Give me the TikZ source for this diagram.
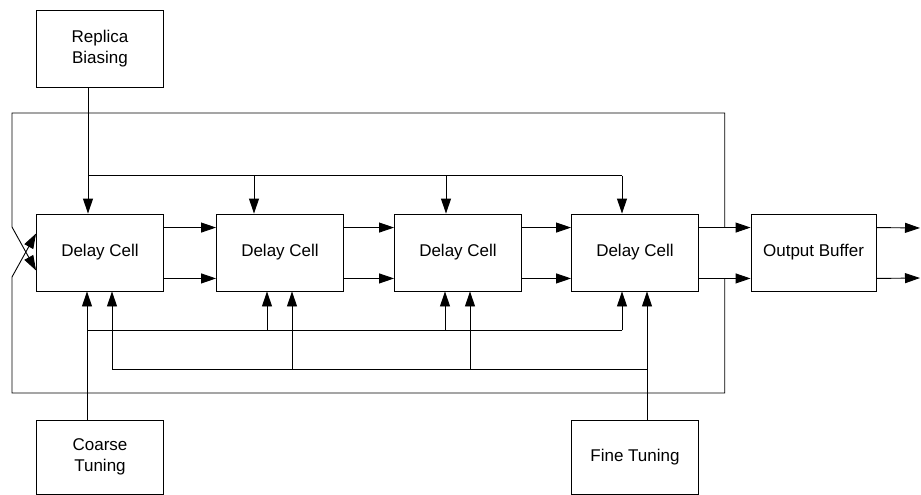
\documentclass[tikz,border=0pt]{standalone}
\usepackage{fontspec}
\setmainfont{Liberation Sans}
\usetikzlibrary{arrows.meta, positioning, calc}

\begin{document}
\begin{tikzpicture}[
  x=1pt, y=-1pt,
  line width=0.9pt,
  blk/.style={rectangle, draw, minimum width=127pt, minimum height=77pt,
              font=\fontsize{17}{21}\selectfont, align=center},
  ctl/.style={blk, minimum height=74pt},
  arr/.style={-{Triangle[length=15pt, width=10pt]}}
]
  \useasboundingbox (0,0) rectangle (921,495);

  \node[blk] (rep) at (100,48.5) {Replica\\Biasing};
  \node[blk] (cellA) at (100,252.5) {Delay Cell};
  \node[blk] (cellB) at (280,252.5) {Delay Cell};
  \node[blk] (cellC) at (458,252.5) {Delay Cell};
  \node[blk] (cellD) at (635,252.5) {Delay Cell};
  \node[blk, minimum width=125pt] (buf) at (813.5,252.5) {Output Buffer};
  \node[ctl] (coarse) at (100,457) {Coarse\\Tuning};
  \node[ctl] (fine) at (635,457) {Fine Tuning};

  % signal chain
  \foreach \a/\b in {cellA/cellB, cellB/cellC, cellC/cellD, cellD/buf} {
    \draw[arr] ([yshift=-14pt]\a.north east) -- ([yshift=-14pt]\b.north west);
    \draw[arr] ([yshift=13pt]\a.south east) -- ([yshift=13pt]\b.south west);
  }
  \coordinate (outP) at (920,228);
  \coordinate (outN) at (920,278);
  \draw[arr] ([yshift=-14pt]buf.north east) -- (outP);
  \draw[arr] ([yshift=13pt]buf.south east) -- (outN);

  % bias distribution
  \draw[arr] ([xshift=-12pt]rep.south) -- ([xshift=-12pt]cellA.north);
  \draw ($(cellA.north)+(-12,-38)$) -- ($(cellD.north)+(-13,-38)$);
  \foreach \c/\dx in {cellB/-26, cellC/-12, cellD/-13}
    \draw[arr] ($(\c.north)+(\dx,-38)$) -- ([xshift=\dx pt]\c.north);

  % coarse tuning
  \draw[arr] ([xshift=-13pt]coarse.north) -- ([xshift=-13pt]cellA.south);
  \draw ($(cellA.south)+(-13,39)$) -- ($(cellD.south)+(-13,39)$);
  \foreach \c in {cellB, cellC, cellD}
    \draw[arr] ($(\c.south)+(-13,39)$) -- ([xshift=-13pt]\c.south);

  % fine tuning
  \draw[arr] ([xshift=12pt]fine.north) -- ([xshift=12pt]cellD.south);
  \draw ($(cellA.south)+(12,78)$) -- ($(cellD.south)+(12,78)$);
  \foreach \c in {cellA, cellB, cellC}
    \draw[arr] ($(\c.south)+(12,78)$) -- ([xshift=12pt]\c.south);

  % feedback loop (crossed)
  \coordinate (fbU) at ($(cellD.north east)!0.5!(buf.north west)+(0,14)$);
  \coordinate (fbL) at ($(cellD.south east)!0.5!(buf.south west)+(0,-13)$);
  \draw[arr] (fbU) |- (12,113) -- (12,227) -- ([yshift=-18pt]cellA.west);
  \draw[arr] (fbL) |- (12,393) -- (12,277) -- ([yshift=19pt]cellA.west);
\end{tikzpicture}
\end{document}
